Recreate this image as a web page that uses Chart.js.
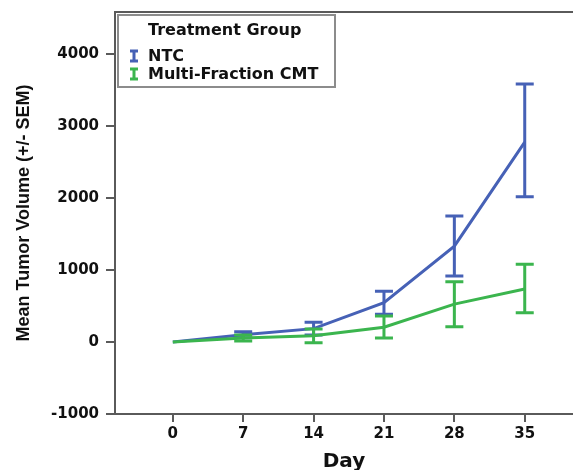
<!DOCTYPE html>
<html>
<head>
<meta charset="utf-8">
<script src="https://cdn.jsdelivr.net/npm/chart.js@4.4.0/dist/chart.umd.min.js"></script>
<style>
  html, body { margin: 0; padding: 0; background: #fff; }
  #wrap { width: 573px; height: 470px; }
</style>
</head>
<body>
<div id="wrap"><canvas id="myChart" width="573" height="470"></canvas></div>
<script>
const days = [0, 7, 14, 21, 28, 35];
const ntcMean = [0, 100, 185, 545, 1330, 2775];
const ntcLow = [0, 60, 95, 385, 915, 2015];
const ntcHigh = [0, 140, 275, 705, 1750, 3580];
const cmtMean = [0, 55, 85, 205, 525, 735];
const cmtLow = [0, 15, -10, 55, 210, 405];
const cmtHigh = [0, 95, 180, 360, 835, 1080];
const yTicks = [-1000, 0, 1000, 2000, 3000, 4000];
const xTicks = [0, 7, 14, 21, 28, 35];

const blue = '#4661b6';
const green = '#3bb54e';
const axisColor = '#5a5a5a';

// error bars, drawn right after each line
const errorBars = {
  id: 'errorBars',
  afterDatasetDraw(chart, args) {
    const ds = chart.data.datasets[args.index];
    if (!ds.low) return;
    const x = chart.scales.x, y = chart.scales.y;
    const c = chart.ctx;
    c.save();
    c.strokeStyle = ds.borderColor;
    c.lineWidth = 3;
    ds.data.forEach((p, i) => {
      if (ds.low[i] === ds.high[i]) return;
      const px = x.getPixelForValue(p.x);
      const y1 = y.getPixelForValue(ds.low[i]);
      const y2 = y.getPixelForValue(ds.high[i]);
      c.beginPath();
      c.moveTo(px, y1); c.lineTo(px, y2);
      c.moveTo(px - 9, y1); c.lineTo(px + 9, y1);
      c.moveTo(px - 9, y2); c.lineTo(px + 9, y2);
      c.stroke();
    });
    c.restore();
  }
};

// top frame line and the boxed legend
const frameLegend = {
  id: 'frameLegend',
  afterDraw(chart) {
    const c = chart.ctx;
    const a = chart.chartArea;
    c.save();
    c.strokeStyle = axisColor;
    c.lineWidth = 2;
    c.beginPath();
    c.moveTo(a.left - 1, a.top);
    c.lineTo(a.right, a.top);
    c.stroke();

    // legend box
    c.fillStyle = '#fff';
    c.fillRect(118, 15, 217, 72);
    c.strokeStyle = '#8c8c8c';
    c.lineWidth = 2;
    c.strokeRect(118, 15, 217, 72);

    c.fillStyle = '#111';
    c.font = 'bold 16px "DejaVu Sans"';
    c.textBaseline = 'middle';
    c.fillText('Treatment Group', 148, 31);
    const rows = [56, 74];
    chart.data.datasets.forEach((ds, i) => {
      const yy = rows[i];
      c.strokeStyle = ds.borderColor;
      c.lineWidth = 3;
      c.beginPath();
      c.moveTo(134, yy - 5); c.lineTo(134, yy + 5);
      c.moveTo(130, yy - 5); c.lineTo(138, yy - 5);
      c.moveTo(130, yy + 5); c.lineTo(138, yy + 5);
      c.stroke();
      c.fillStyle = '#111';
      c.fillText(ds.label, 148, yy + 1);
    });
    c.restore();
  }
};

const toPts = (vals) => days.map((d, i) => ({ x: d, y: vals[i] }));

Chart.defaults.font.family = '"DejaVu Sans"';
Chart.defaults.color = '#111';

new Chart(document.getElementById('myChart'), {
  type: 'line',
  data: {
    datasets: [
      {
        label: 'NTC',
        data: toPts(ntcMean),
        low: ntcLow,
        high: ntcHigh,
        borderColor: blue,
        borderWidth: 3,
        pointRadius: 0,
        tension: 0,
        order: 1
      },
      {
        label: 'Multi-Fraction CMT',
        data: toPts(cmtMean),
        low: cmtLow,
        high: cmtHigh,
        borderColor: green,
        borderWidth: 3,
        pointRadius: 0,
        tension: 0,
        order: 0
      }
    ]
  },
  options: {
    responsive: false,
    animation: false,
    devicePixelRatio: 1,
    layout: { padding: { top: 12, left: 0, right: 0, bottom: 0 } },
    plugins: {
      legend: { display: false },
      tooltip: { enabled: false }
    },
    scales: {
      x: {
        type: 'linear',
        min: -5.75,
        max: 39.8,
        afterBuildTicks: (s) => { s.ticks = xTicks.map(v => ({ value: v })); },
        afterFit: (s) => { s.height = 56; s.paddingLeft = 0; s.paddingRight = 0; },
        grid: { drawOnChartArea: false, drawTicks: true, tickLength: 8, color: axisColor, lineWidth: 2 },
        border: { display: true, color: axisColor, width: 2 },
        ticks: { font: { size: 15, weight: 'bold' }, padding: 3, color: '#111', maxRotation: 0 },
        title: {
          display: true,
          text: 'Day',
          font: { size: 20, weight: 'bold', lineHeight: 0.8 },
          color: '#111',
          padding: { top: 4, bottom: 0 }
        }
      },
      y: {
        min: -1000,
        max: 4580,
        afterBuildTicks: (s) => { s.ticks = yTicks.map(v => ({ value: v })); },
        afterFit: (s) => { s.width = 115; s.paddingTop = 0; s.paddingBottom = 0; },
        grid: { drawOnChartArea: false, drawTicks: true, tickLength: 9, color: axisColor, lineWidth: 2 },
        border: { display: true, color: axisColor, width: 2 },
        ticks: {
          font: { size: 15, weight: 'bold' },
          padding: 7,
          color: '#111',
          callback: (v) => String(v)
        },
        title: {
          display: true,
          text: 'Mean Tumor Volume (+/- SEM)',
          font: { family: '"Liberation Sans"', size: 18, weight: 'bold' },
          color: '#111',
          padding: { top: 13, bottom: 4 }
        }
      }
    }
  },
  plugins: [errorBars, frameLegend]
});
</script>
</body>
</html>
